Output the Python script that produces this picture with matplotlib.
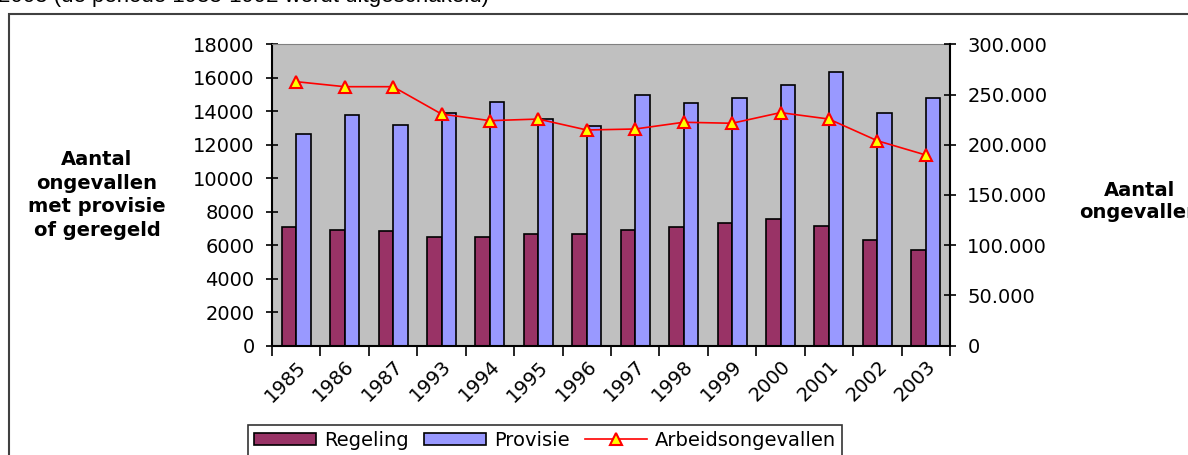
import numpy as np
import matplotlib.pyplot as plt
from matplotlib.patches import Rectangle
from matplotlib.ticker import FuncFormatter

years = ["1985", "1986", "1987", "1993", "1994", "1995", "1996",
         "1997", "1998", "1999", "2000", "2001", "2002", "2003"]
regeling = [7070, 6910, 6830, 6470, 6470, 6650, 6650,
            6910, 7070, 7330, 7570, 7150, 6310, 5720]
provisie = [12625, 13800, 13200, 13900, 14570, 13540, 13140,
            14970, 14490, 14810, 15570, 16330, 13880, 14810]
arbeid = [262800, 257800, 257800, 230600, 224000, 225600, 214700,
          215700, 222400, 221400, 232000, 225600, 204000, 189800]

plt.rcParams['font.family'] = ['DejaVu Sans']

W, H = 1188, 455
fig = plt.figure(figsize=(W / 100, H / 100), dpi=100)


def fx(px):
    return px / W


def fy(py):
    return 1 - py / H


# chart area frame
fig.patches.append(Rectangle((fx(9), fy(470)), fx(1300), fy(14) - fy(470),
                             transform=fig.transFigure, fill=False,
                             edgecolor="#404040", lw=1.5))
fig.text(fx(-2), fy(2), "2003 (de periode 1988-1992 wordt uitgeschakeld)",
         fontsize=16, va="baseline", ha="left", family="Liberation Sans")

ax = fig.add_axes([fx(272), fy(345.7), fx(950 - 272), fy(44.3) - fy(345.7)])
ax.set_facecolor("#C0C0C0")

x = np.arange(len(years))
bw = 0.3
ax.bar(x - bw / 2, regeling, bw, color="#993366", edgecolor="black",
       lw=1.2, label="Regeling", zorder=2)
ax.bar(x + bw / 2, provisie, bw, color="#9999FF", edgecolor="black",
       lw=1.2, label="Provisie", zorder=2)

ax.set_xlim(-0.5, len(years) - 0.5)
ax.set_ylim(0, 18000)
ax.set_yticks(np.arange(0, 18001, 2000))
ax.set_xticks(x)
ax.set_xticklabels(years, rotation=45, ha="right", rotation_mode="anchor",
                   fontsize=14)
ax.set_xticks(np.arange(-0.5, len(years) + 0.5, 1), minor=True)
ax.tick_params(axis="x", which="major", length=0, pad=8)
ax.tick_params(axis="x", which="minor", length=7, width=1.2, direction="out")
ax.tick_params(axis="y", length=9, width=1.2, direction="inout", labelsize=14,
               pad=8)
for s in ["left", "bottom"]:
    ax.spines[s].set_linewidth(1.5)
ax.spines["top"].set_color("#808080")
ax.spines["right"].set_visible(False)

ax2 = ax.twinx()
ax2.plot(x, arbeid, color="red", lw=1.2, marker="^", markersize=8,
         markerfacecolor="yellow", markeredgecolor="red", mew=1.5,
         label="Arbeidsongevallen", zorder=3)
ax2.set_ylim(0, 300000)
ax2.set_yticks(np.arange(0, 300001, 50000))
ax2.yaxis.set_major_formatter(FuncFormatter(
    lambda v, p: "0" if v == 0 else f"{int(v):,}".replace(",", ".")))
ax2.tick_params(axis="y", length=9, width=1.2, direction="inout",
                labelsize=14, pad=8)
ax2.spines["right"].set_linewidth(1.5)
ax2.spines["top"].set_visible(False)
ax2.spines["left"].set_visible(False)
ax2.spines["bottom"].set_visible(False)

fig.text(fx(97), fy(195), "Aantal\nongevallen\nmet provisie\nof geregeld",
         ha="center", va="center", fontsize=14, fontweight="bold",
         linespacing=1.3)
fig.text(fx(1140), fy(201), "Aantal\nongevallen", ha="center", va="center",
         fontsize=14, fontweight="bold", linespacing=1.2)

h1, l1 = ax.get_legend_handles_labels()
h2, l2 = ax2.get_legend_handles_labels()
leg = fig.legend(h1 + h2, l1 + l2, loc="upper left",
                 bbox_to_anchor=(fx(248), fy(425)), ncol=3, fontsize=14,
                 frameon=True, fancybox=False, handlelength=3.2,
                 handleheight=0.6, columnspacing=0.8, handletextpad=0.4,
                 borderpad=0.3, borderaxespad=0)
leg.get_frame().set_edgecolor("black")
leg.get_frame().set_linewidth(1.2)

fig.savefig("out.png", dpi=100)
